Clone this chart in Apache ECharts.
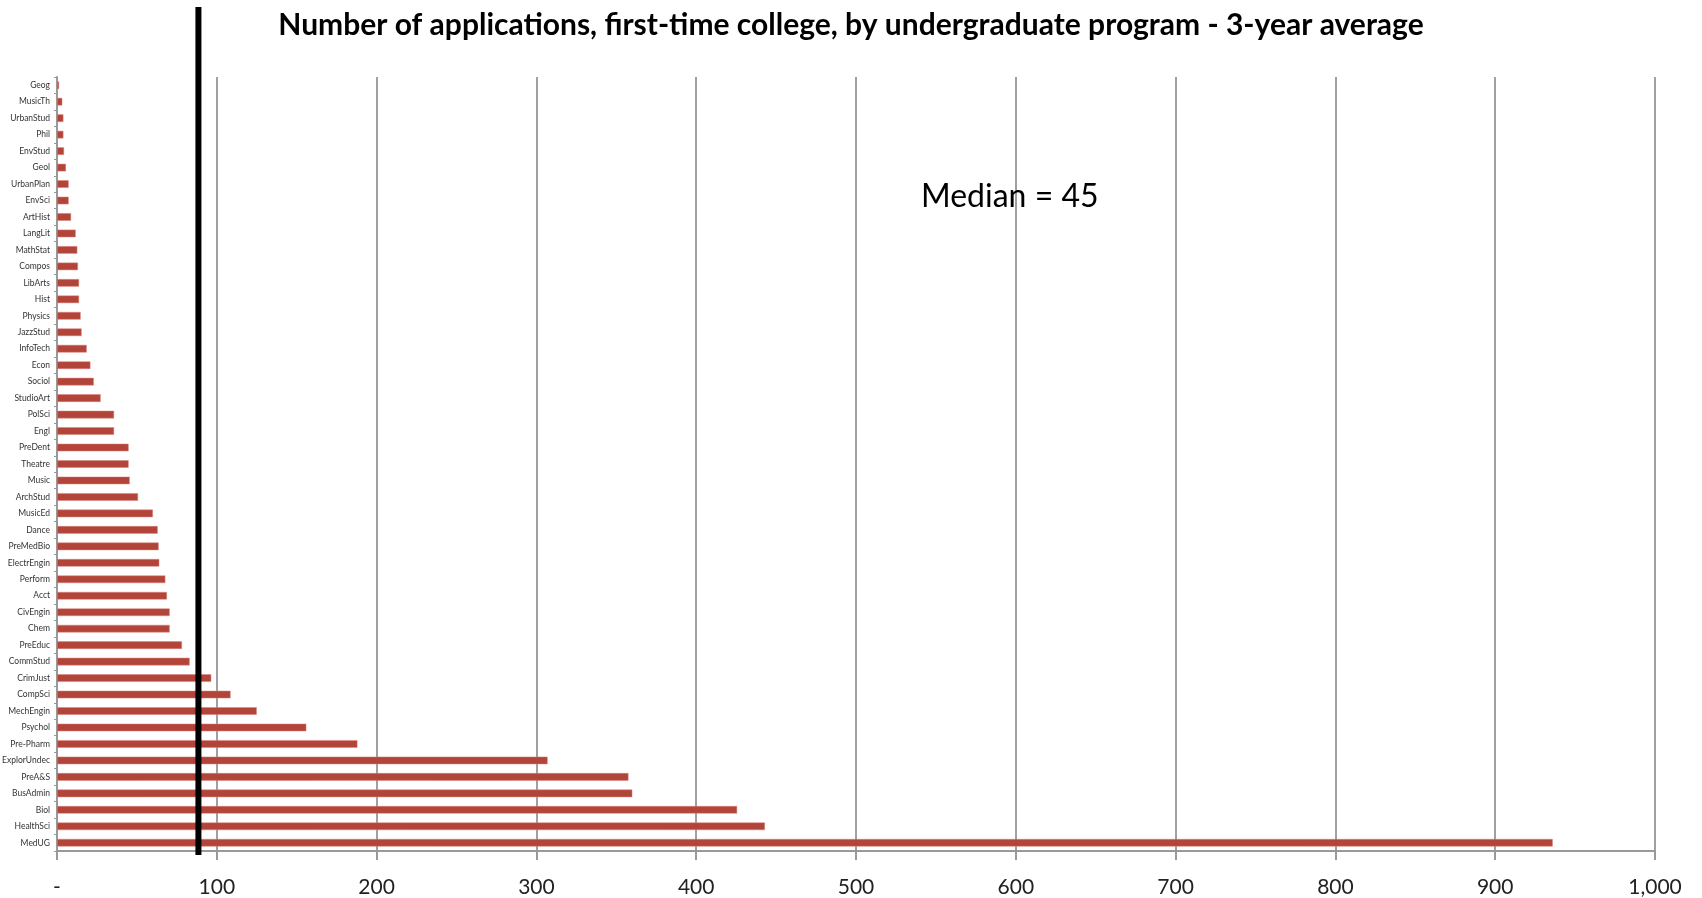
<!DOCTYPE html>
<html>
<head>
<meta charset="utf-8">
<script src="https://cdn.jsdelivr.net/npm/echarts@6/dist/echarts.min.js"></script>
<style>
  html, body { margin: 0; padding: 0; background: #fff; }
  #chart { width: 1702px; height: 898px; }
</style>
</head>
<body>
<div id="chart"></div>
<script>
// programs, top to bottom as shown
var programs = ["Geog", "MusicTh", "UrbanStud", "Phil", "EnvStud", "Geol", "UrbanPlan", "EnvSci",
  "ArtHist", "LangLit", "MathStat", "Compos", "LibArts", "Hist", "Physics", "JazzStud", "InfoTech",
  "Econ", "Sociol", "StudioArt", "PolSci", "Engl", "PreDent", "Theatre", "Music", "ArchStud",
  "MusicEd", "Dance", "PreMedBio", "ElectrEngin", "Perform", "Acct", "CivEngin", "Chem", "PreEduc",
  "CommStud", "CrimJust", "CompSci", "MechEngin", "Psychol", "Pre-Pharm", "ExplorUndec", "PreA&S",
  "BusAdmin", "Biol", "HealthSci", "MedUG"];
var applications = [1.3, 3.3, 4, 4, 4.4, 5.6, 7.3, 7.3,
  8.8, 11.7, 12.7, 13.1, 13.8, 13.8, 14.8, 15.4, 18.6,
  20.9, 23, 27.3, 35.7, 35.7, 44.8, 44.8, 45.5, 50.7,
  60, 63, 63.6, 64, 67.8, 68.8, 70.5, 70.5, 78.2,
  83, 96.5, 108.6, 125, 156, 188, 307, 357.6,
  360, 425.6, 443, 936];
var xTicks = [0, 1000, 100]; // min, max, interval
var medianLineAt = [88.5];
var medianLabel = "Median = 45";

var chart = echarts.init(document.getElementById("chart"));
var font = "Lato, 'Open Sans', sans-serif";

var option = {
  animation: false,
  title: [
    {
      text: "Number of applications, first-time college, by undergraduate program - 3-year average",
      left: "center",
      top: 5,
      textStyle: { fontFamily: font, fontSize: 30, fontWeight: "bold", color: "#000" }
    },
    {
      text: medianLabel,
      left: 916,
      top: 176,
      textStyle: { fontFamily: font, fontSize: 32, fontWeight: "normal", color: "#000" }
    }
  ],
  grid: [
    { left: 57, right: 47, top: 77, bottom: 47, outerBoundsMode: "none" },
    { left: 57, right: 47, top: 7, bottom: 43, outerBoundsMode: "none" }
  ],
  xAxis: [
    {
      type: "value",
      gridIndex: 0,
      min: xTicks[0],
      max: xTicks[1],
      interval: xTicks[2],
      axisLine: { show: true, lineStyle: { color: "#999", width: 2 } },
      axisTick: { show: true, length: 9, lineStyle: { color: "#999", width: 2 } },
      splitLine: { show: true, lineStyle: { color: "#a0a0a0", width: 2 } },
      axisLabel: {
        margin: 26,
        fontFamily: font,
        fontSize: 21,
        color: "#222",
        formatter: function (v) { return v === 0 ? "-" : v.toLocaleString("en-US"); }
      }
    },
    {
      type: "value",
      gridIndex: 1,
      min: xTicks[0],
      max: xTicks[1],
      show: false
    }
  ],
  yAxis: [
    {
      type: "category",
      gridIndex: 0,
      data: programs,
      inverse: true,
      axisLine: { show: true, lineStyle: { color: "#999", width: 2 } },
      axisTick: { show: true, length: 3, lineStyle: { color: "#999" } },
      axisLabel: { fontFamily: font, fontSize: 8.5, color: "#333", margin: 7, interval: 0 }
    },
    {
      type: "value",
      gridIndex: 1,
      min: 0,
      max: 1,
      show: false
    }
  ],
  series: [
    {
      type: "bar",
      xAxisIndex: 0,
      yAxisIndex: 0,
      data: applications,
      barWidth: "46%",
      itemStyle: { color: "#b3443a", borderColor: "#d9847c", borderWidth: 0.5 }
    },
    {
      type: "line",
      xAxisIndex: 1,
      yAxisIndex: 1,
      symbol: "none",
      data: [[medianLineAt[0], 0], [medianLineAt[0], 1]],
      lineStyle: { color: "#000", width: 6 },
      z: 5
    }
  ]
};

chart.setOption(option);
</script>
</body>
</html>
